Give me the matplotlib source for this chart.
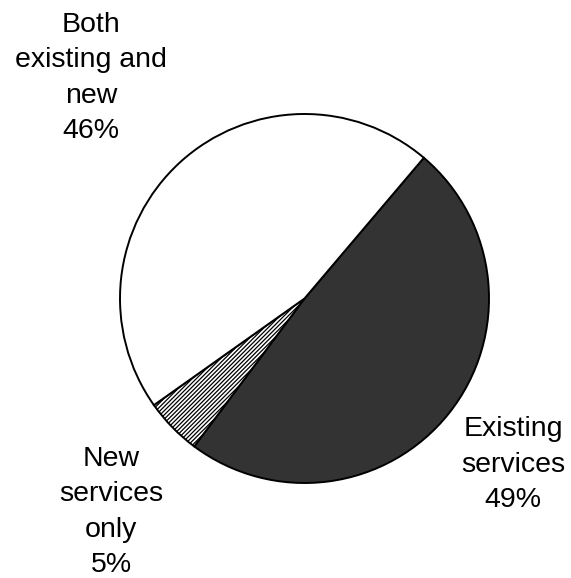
import matplotlib
matplotlib.use('Agg')
import matplotlib.pyplot as plt

categories = ['Existing\nservices', 'New\nservices\nonly', 'Both\nexisting and\nnew']
shares = [49, 5, 46]
fills = ['#333333', 'white', 'white']
hatches = [None, '////////', None]

# label anchors in pixels (x centre, last baseline from top)
label_px = [(513, 507), (111, 572), (91, 138)]

plt.rcParams['font.family'] = ['Liberation Sans', 'DejaVu Sans']
plt.rcParams['hatch.linewidth'] = 0.9

W, H = 571, 578
fig = plt.figure(figsize=(W / 100, H / 100), dpi=100)
cx, cy, r = 304.5, 298.5, 184.5
ax = fig.add_axes([(cx - r) / W, (H - cy - r) / H, 2 * r / W, 2 * r / H])

wedges, _ = ax.pie(shares, colors=fills, startangle=49.7, counterclock=False,
                   radius=1.0,
                   wedgeprops={'edgecolor': 'black', 'linewidth': 1.4})
for w, h in zip(wedges, hatches):
    if h:
        w.set_hatch(h)
ax.set_xlim(-1, 1)
ax.set_ylim(-1, 1)
ax.set_aspect('equal')
ax.axis('off')

for name, val, (px, py) in zip(categories, shares, label_px):
    fig.text(px / W, 1 - py / H, '{}\n{}%'.format(name, val), ha='center',
             va='baseline', multialignment='center', fontsize=20.5, linespacing=1.47)

fig.savefig('out.png', dpi=100, facecolor='white')
